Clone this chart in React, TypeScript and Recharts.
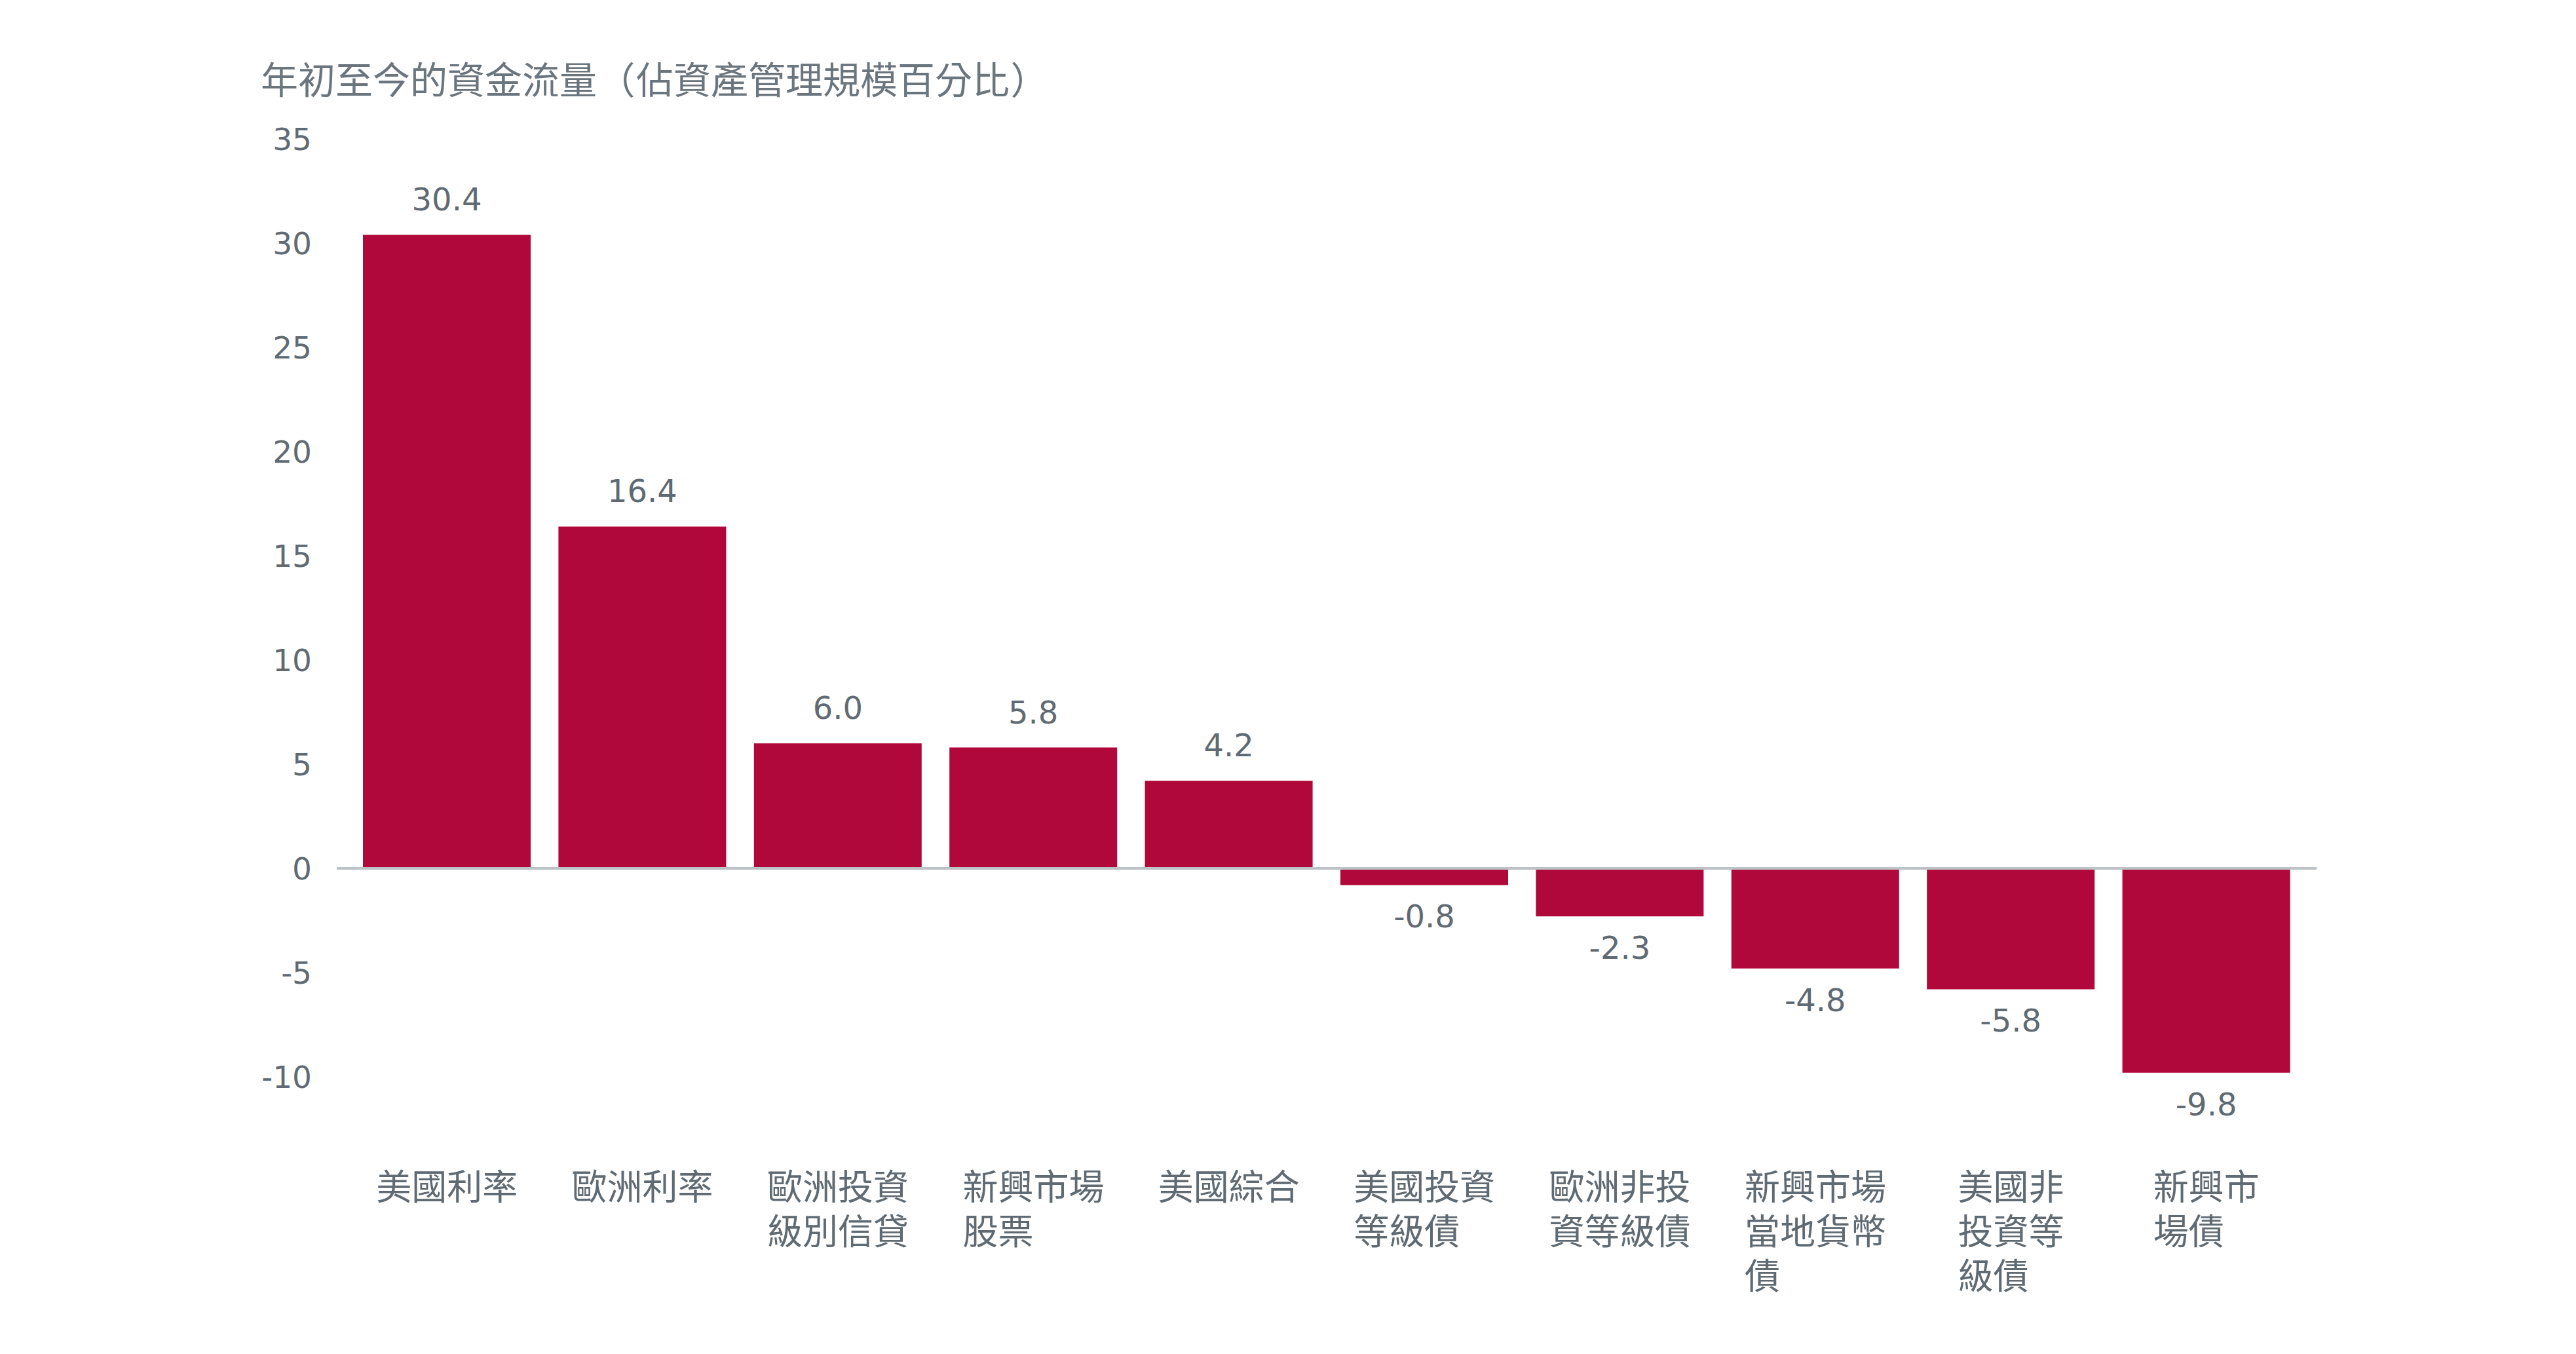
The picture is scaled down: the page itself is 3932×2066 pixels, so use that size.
import React from 'react';
import { BarChart, Bar, XAxis, YAxis, ReferenceLine, LabelList } from 'recharts';

const categories = ['美國利率', '歐洲利率', '歐洲投資級別信貸', '新興市場股票', '美國綜合', '美國投資等級債', '歐洲非投資等級債', '新興市場當地貨幣債', '美國非投資等級債', '新興市場債'];
const flows = [30.4, 16.4, 6.0, 5.8, 4.2, -0.8, -2.3, -4.8, -5.8, -9.8];
const tickLines = [
  ['美國利率'],
  ['歐洲利率'],
  ['歐洲投資', '級別信貸'],
  ['新興市場', '股票'],
  ['美國綜合'],
  ['美國投資', '等級債'],
  ['歐洲非投', '資等級債'],
  ['新興市場', '當地貨幣', '債'],
  ['美國非', '投資等', '級債'],
  ['新興市', '場債'],
];
const yTicks = [-10, -5, 0, 5, 10, 15, 20, 25, 30, 35];
const titleMain = '年初至今的資金流量';
const titleNote = '佔資產管理規模百分比';

const data = categories.map((c, i) => ({ name: c, value: flows[i] }));

const TEXT = '#5f6a73';
const BAR = '#B0083A';
const CJK = '"Noto Sans CJK TC", "Noto Sans CJK SC", sans-serif';
const NUM = '"DejaVu Sans", sans-serif';

const CatTick = (props: any) => {
  const { x, y, index } = props;
  const lines = tickLines[index] || [String(props.payload?.value ?? '')];
  const fs = 54;
  const maxChars = Math.max(...lines.map((l) => l.length));
  const left = x - (maxChars * fs) / 2;
  return (
    <g>
      {lines.map((l, i) => (
        <text key={i} x={left} y={y + 188 + i * 68} fill={TEXT} fontSize={fs} fontFamily={CJK} textAnchor="start">
          {l}
        </text>
      ))}
    </g>
  );
};

const ValueLabel = (props: any) => {
  const { x, y, width, height, value } = props;
  const top = Math.min(y, y + height);
  const bottom = Math.max(y, y + height);
  const cx = x + width / 2;
  const ty = value >= 0 ? top - 37 : bottom + 65;
  return (
    <text x={cx} y={ty} fill={TEXT} fontSize={48} fontFamily={NUM} textAnchor="middle">
      {Number(value).toFixed(1)}
    </text>
  );
};

const parenStyle: any = { display: 'inline-block', width: 60, textAlign: 'center', textSpacingTrim: 'space-all' };

export default function App() {
  return (
    <div style={{ position: 'relative', width: 3916, height: 2050, background: '#fff' }}>
      <div
        style={{
          position: 'absolute',
          left: 390,
          top: 80,
          fontSize: 57,
          lineHeight: '60px',
          fontFamily: CJK,
          color: '#6b757e',
          whiteSpace: 'nowrap',
        }}
      >
        <span>{titleMain}</span>
        <span style={parenStyle}>（</span>
        <span>{titleNote}</span>
        <span style={parenStyle}>）</span>
      </div>
      <BarChart
        width={3916}
        height={2050}
        data={data}
        margin={{ top: 204, right: 388, bottom: 115, left: 0 }}
      >
        <XAxis
          dataKey="name"
          axisLine={false}
          tickLine={false}
          tickSize={0}
          tickMargin={0}
          interval={0}
          height={300}
          padding={{ left: 19, right: 19 }}
          tick={<CatTick />}
        />
        <YAxis
          domain={[-10, 35]}
          ticks={yTicks}
          axisLine={false}
          tickLine={false}
          tickSize={0}
          tickMargin={38}
          width={506}
          tick={{ fill: TEXT, fontSize: 47, fontFamily: NUM }}
        />
        <Bar dataKey="value" fill={BAR} barSize={256} isAnimationActive={false}>
          <LabelList dataKey="value" content={<ValueLabel />} />
        </Bar>
        <ReferenceLine y={0} stroke="#bcc2c6" strokeWidth={4} />
      </BarChart>
    </div>
  );
}
